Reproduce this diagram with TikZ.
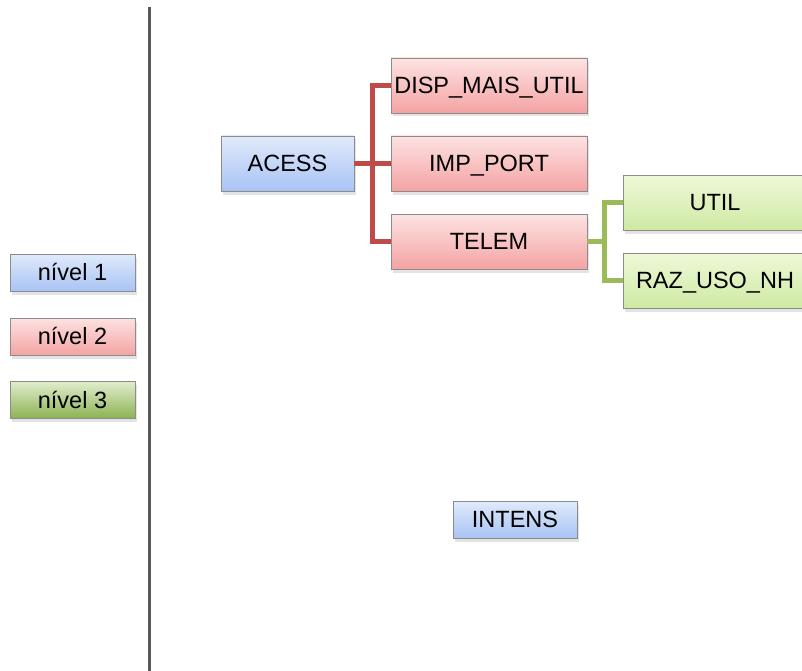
\documentclass[tikz,border=0pt]{standalone}
\usepackage{fontspec}
\setmainfont{Liberation Sans}
\usepackage{tikz}
\usetikzlibrary{positioning}
\usetikzlibrary{shadows}

\definecolor{boxBorder}{HTML}{8C8C8C}
\definecolor{blueTop}{HTML}{E0EAFB}
\definecolor{blueBottom}{HTML}{A8C3F4}
\definecolor{redTop}{HTML}{FDE2E2}
\definecolor{redBottom}{HTML}{F4A3A3}
\definecolor{paleGreenTop}{HTML}{EEF9D8}
\definecolor{paleGreenBottom}{HTML}{CFE9A4}
\definecolor{greenTop}{HTML}{E0EDCC}
\definecolor{greenBottom}{HTML}{8CB252}
\definecolor{redLink}{HTML}{BE4B48}
\definecolor{greenLink}{HTML}{9BBB59}
\definecolor{divider}{HTML}{5A5A5A}

\begin{document}
\begin{tikzpicture}
 [ x=1pt, y=-1pt
 , grow'=right
 , box/.style={draw=boxBorder, line width=0.8pt, inner sep=2pt, minimum height=55pt,
     text height=16.8pt, text depth=0pt, font=\fontsize{23.5}{28}\selectfont,
     drop shadow={opacity=0.22, shadow xshift=1.5pt, shadow yshift=-3.5pt}}
 , blue box/.style={box, top color=blueTop, bottom color=blueBottom, minimum width=133pt}
 , red box/.style={box, top color=redTop, bottom color=redBottom, minimum width=196pt}
 , pale green box/.style={box, top color=paleGreenTop, bottom color=paleGreenBottom, minimum width=184pt}
 , green box/.style={box, top color=greenTop, bottom color=greenBottom}
 , key/.style={minimum width=125pt, minimum height=37pt}
 , level 1/.style={level distance=201.5pt, sibling distance=78pt,
     edge from parent/.style={draw=redLink, line width=5pt},
     edge from parent path={(\tikzparentnode.east) -- +(18pt,0) |- (\tikzchildnode.west)}}
 , level 2/.style={level distance=226pt, sibling distance=78pt,
     edge from parent/.style={draw=greenLink, line width=5pt},
     edge from parent path={(\tikzparentnode.east) -- +(17.5pt,0) |- (\tikzchildnode.west)}}
 ]
  \clip (0,0) rectangle (802,671);

  % legend
  \node[blue box, key] (key one) at (72.5,272.5) {nível 1};
  \node[red box, key] (key two) at (72.5,336.5) {nível 2};
  \node[green box, key] (key three) at (72.5,400) {nível 3};
  \draw[divider, line width=3pt] (149.5,7) -- (149.5,671);

  \node[blue box] (acess) at (287.5,163.5) {ACESS}
    child { node[red box] (disp) {DISP\_MAIS\_UTIL} }
    child { node[red box] (imp) {IMP\_PORT} }
    child
    {
      node[red box] (telem) {TELEM}
      child { node[pale green box] (util) {UTIL} }
      child { node[pale green box] (raz) {RAZ\_USO\_NH} }
    }
  ;

  \node[blue box, minimum width=124pt, minimum height=37pt] (intens) at (515,519.5) {INTENS};
\end{tikzpicture}
\end{document}
